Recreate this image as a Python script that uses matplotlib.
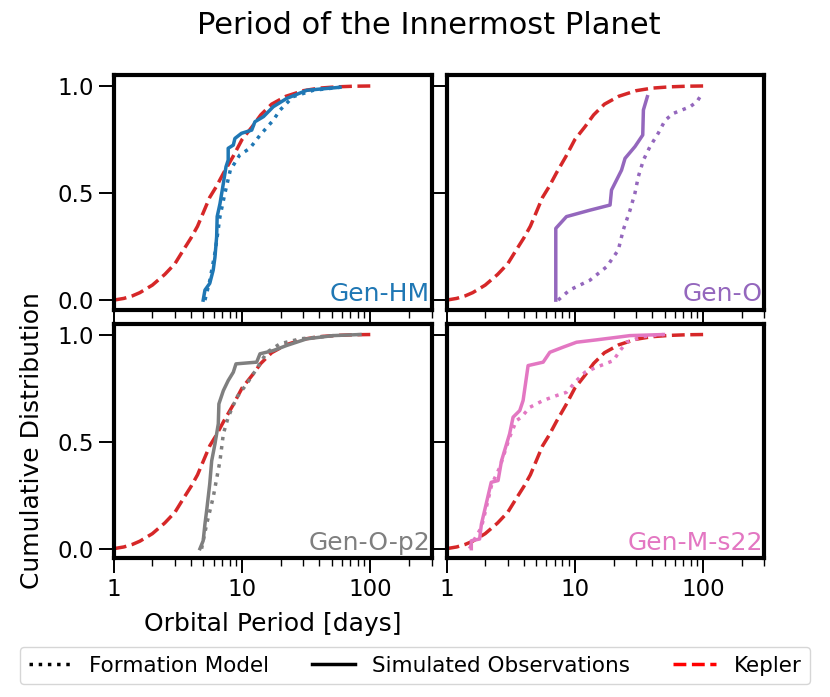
#!/usr/bin/env python3
# coding: utf-8

import matplotlib
matplotlib.use('Agg')
import matplotlib.pyplot as plt
from matplotlib.lines import Line2D

# Kepler CDF (same curve in every panel)
kepler_p = [1.0, 1.2, 1.4, 1.6, 2.0, 2.5, 3.0, 3.5, 4.0, 4.5, 5.0, 5.6, 6.3, 7.2, 8.5,
            10, 12, 14, 17, 22, 30, 40, 55, 75, 100]
kepler_v = [0.0, 0.008, 0.02, 0.035, 0.07, 0.12, 0.17, 0.235, 0.29, 0.345, 0.41, 0.48, 0.53,
            0.595, 0.67, 0.75, 0.81, 0.865, 0.915, 0.952, 0.978, 0.99, 0.996, 0.999, 1.0]

# Gen-HM
hm_obs_p = [4.98, 5.14, 5.6, 5.96, 6.15, 6.34, 6.4, 6.73, 7.15, 7.5, 7.8, 7.8, 8.55, 8.8,
            9.9, 11.9, 12.6, 14.7, 17.5, 22.3, 32, 58]
hm_obs_v = [0.0, 0.047, 0.078, 0.14, 0.2, 0.296, 0.39, 0.45, 0.545, 0.623, 0.654, 0.709, 0.724,
            0.755, 0.779, 0.794, 0.833, 0.857, 0.903, 0.942, 0.98, 0.994]
hm_mod_p = [5.14, 5.6, 6.15, 6.73, 7.36, 8.1, 9.6, 11.5, 13.8, 17.5, 19.8, 25, 36, 58]
hm_mod_v = [0.0, 0.09, 0.22, 0.39, 0.5, 0.607, 0.678, 0.709, 0.77, 0.84, 0.888, 0.95, 0.98, 0.994]

# Gen-O
o_obs_p = [7.1, 7.1, 8.6, 13.1, 18.8, 19.3, 23.1, 24.6, 29.4, 33.8, 34.2, 36.7]
o_obs_v = [0.0, 0.335, 0.39, 0.42, 0.444, 0.514, 0.607, 0.662, 0.717, 0.771, 0.888, 0.95]
o_mod_p = [7.4, 9.1, 13.1, 17.7, 21.8, 23.8, 26.9, 29.4, 31.2, 34.2, 38.5, 44.6, 50.5, 58.5,
           79, 89.5, 98.3]
o_mod_v = [0.0, 0.047, 0.093, 0.156, 0.234, 0.327, 0.42, 0.5, 0.576, 0.654, 0.717, 0.779, 0.84,
           0.872, 0.903, 0.927, 0.966]

# Gen-O-p2
p2_obs_p = [4.7, 4.98, 5.14, 5.3, 5.6, 5.8, 6.15, 6.53, 6.6, 7.15, 7.8, 8.55, 8.97, 13, 13.8,
            17.5, 22.3, 32, 51.5, 83]
p2_obs_v = [0.0, 0.037, 0.115, 0.178, 0.302, 0.41, 0.489, 0.583, 0.676, 0.738, 0.785, 0.824,
            0.863, 0.871, 0.91, 0.925, 0.949, 0.98, 0.995, 1.0]
p2_mod_p = [4.84, 5.3, 5.96, 6.73, 7.15, 7.8, 9.1, 10.9, 13, 15.6, 19.8, 28.5, 51.5]
p2_mod_v = [0.0, 0.115, 0.24, 0.41, 0.536, 0.614, 0.707, 0.77, 0.84, 0.917, 0.957, 0.98, 0.995]

# Gen-M-s22
ms_obs_p = [1.56, 1.56, 1.81, 1.87, 1.98, 2.23, 2.52, 2.68, 3.1, 3.3, 3.72, 3.95, 4.32, 5.66,
            6.38, 8.1, 10.3, 14.7, 21.2, 26.9, 49]
ms_obs_v = [0.0, 0.037, 0.045, 0.115, 0.178, 0.31, 0.318, 0.41, 0.536, 0.614, 0.645, 0.692,
            0.855, 0.871, 0.917, 0.941, 0.964, 0.975, 0.987, 0.995, 1.0]
ms_mod_p = [1.51, 1.6, 1.87, 2.0, 2.25, 2.6, 3.1, 3.5, 3.83, 4.45, 5.66, 7.2, 8.6, 10.3, 12,
            14.7, 19.9, 22.5, 25.3, 34, 49]
ms_mod_v = [0.0, 0.03, 0.1, 0.17, 0.3, 0.38, 0.52, 0.598, 0.614, 0.66, 0.692, 0.715, 0.73, 0.785,
            0.824, 0.847, 0.878, 0.925, 0.964, 0.99, 1.0]

names = ['Gen-HM', 'Gen-O', 'Gen-O-p2', 'Gen-M-s22']
colors = ['#1f77b4', '#9467bd', '#7f7f7f', '#e377c2']
obs = [(hm_obs_p, hm_obs_v), (o_obs_p, o_obs_v), (p2_obs_p, p2_obs_v), (ms_obs_p, ms_obs_v)]
mod = [(hm_mod_p, hm_mod_v), (o_mod_p, o_mod_v), (p2_mod_p, p2_mod_v), (ms_mod_p, ms_mod_v)]

LW = 2.5

fig, axes = plt.subplots(2, 2, figsize=(8.3, 6.97), dpi=100, sharex=True, sharey=True)
fig.subplots_adjust(left=0.137, right=0.921, top=0.892, bottom=0.199, wspace=0.047, hspace=0.06)

for i, ax in enumerate(axes.flat):
    ax.plot(kepler_p, kepler_v, '--', color='#d62728', lw=LW)
    ax.plot(mod[i][0], mod[i][1], ':', color=colors[i], lw=LW)
    ax.plot(obs[i][0], obs[i][1], '-', color=colors[i], lw=LW)
    ax.text(0.995, 0.015, names[i], color=colors[i], fontsize=18,
            ha='right', va='bottom', transform=ax.transAxes)
    ax.set_xscale('log')
    ax.set_xlim(1, 300)
    ax.set_ylim(-0.045, 1.05)
    ax.set_yticks([0.0, 0.5, 1.0])
    ax.set_xticks([1, 10, 100])
    ax.set_xticklabels(['1', '10', '100'])
    for sp in ax.spines.values():
        sp.set_linewidth(3.0)
        sp.set_color('black')
    ax.tick_params(which='major', direction='out', length=10.5, width=1.4, labelsize=16.5)
    ax.tick_params(which='minor', direction='out', length=5.5, width=1.0)
    ax.tick_params(axis='y', which='minor', left=False)

axes[0, 0].set_yticklabels(['0.0', '0.5', '1.0'])
axes[1, 0].set_ylabel('Cumulative Distribution', fontsize=18, labelpad=10)
axes[1, 0].set_xlabel('Orbital Period [days]', fontsize=18, labelpad=8)

fig.suptitle('Period of the Innermost Planet', fontsize=22, x=0.517, y=0.964, va='center')

handles = [Line2D([], [], ls=':', color='black', lw=LW),
           Line2D([], [], ls='-', color='black', lw=LW),
           Line2D([], [], ls='--', color='red', lw=LW)]
fig.legend(handles, ['Formation Model', 'Simulated Observations', 'Kepler'],
           loc='lower center', bbox_to_anchor=(0.5, 0.003), ncol=3, fontsize=15.5)

plt.savefig('out.png', dpi=100)
